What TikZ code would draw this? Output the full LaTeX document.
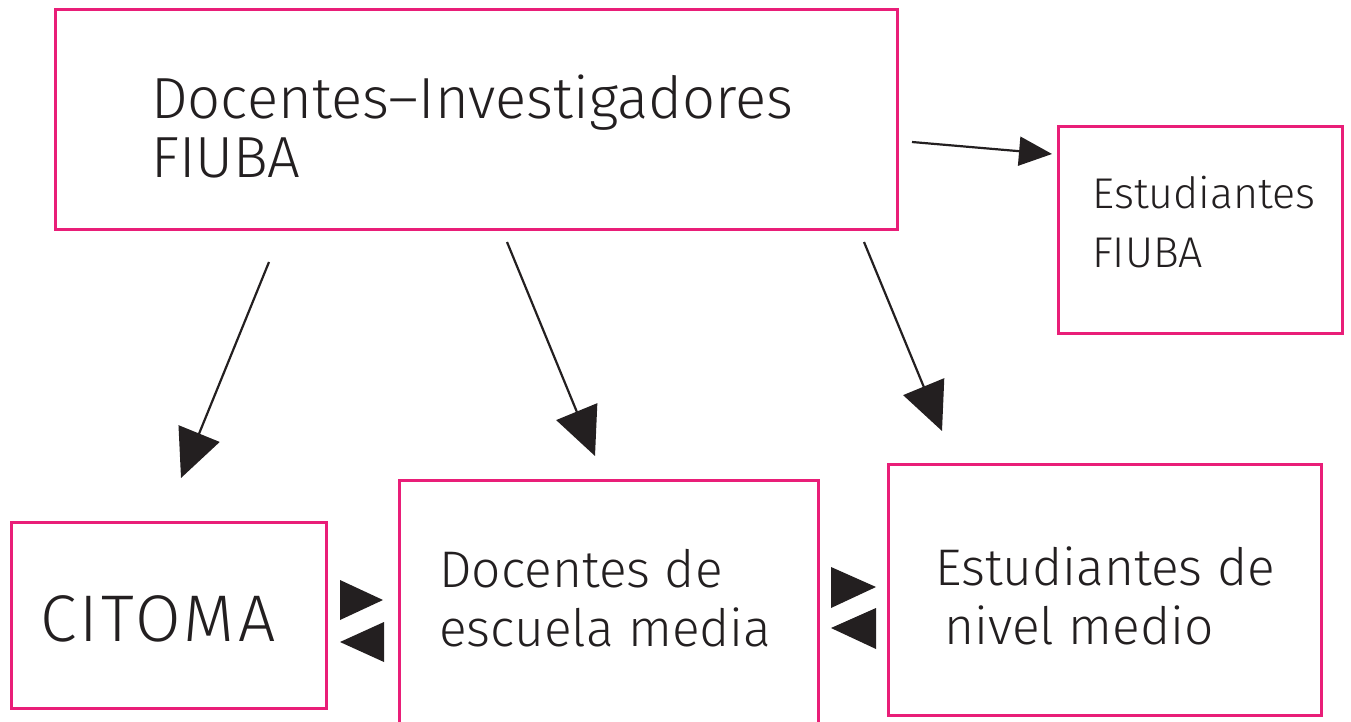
\documentclass[tikz,border=0pt]{standalone}
\usepackage{fontspec}
\setmainfont{Fira Sans Light}
\usetikzlibrary{arrows.meta}
\definecolor{rosa}{RGB}{233,30,120}
\definecolor{tinta}{RGB}{35,31,32}
\tikzset{
  caja/.style={draw=rosa, line width=3pt, inner sep=0pt},
  texto/.style={text=tinta, align=left, anchor=west, inner sep=0pt},
  flecha/.style={draw=tinta, line width=2.2pt, -{Triangle[length=48pt,width=44pt]}},
}
\begin{document}
\begin{tikzpicture}[x=1pt,y=-1pt]
      \useasboundingbox (0,0) rectangle (1351,722);
      \clip (0,0) rectangle (1351,722);
      % cajas
      \node[caja, minimum width=842, minimum height=219] (docinv) at (476,119.5) {};
      \node[caja, minimum width=284, minimum height=206] (estfiuba) at (1200,230) {};
      \node[caja, minimum width=315, minimum height=186] (citoma) at (168.5,615) {};
      \node[caja, minimum width=419, minimum height=270] (docmedia) at (608.5,615) {};
      \node[caja, minimum width=433, minimum height=251] (estmedio) at (1104.5,589.5) {};
      % textos
      \node[texto, font=\fontsize{58}{59}\selectfont] (docinvtxt) at (151,126) {Docentes–Investigadores\\FIUBA};
      \node[texto, font=\fontsize{43}{59}\selectfont] (estfiubatxt) at (1092,222) {Estudiantes\\FIUBA};
      \node[texto, font=\fontsize{66}{59}\selectfont\addfontfeature{LetterSpace=5}] (citomatxt) at (40,618.5) {CITOMA};
      \node[texto, font=\fontsize{51.5}{59}\selectfont] (docmediatxt) at (439,598.5) {Docentes de\\escuela media};
      \node[texto, font=\fontsize{51.5}{59}\selectfont] (estmediotxt) at (935,596) {Estudiantes de\\\hspace*{9pt}nivel medio};
      % flechas
      \coordinate (a1) at (269,262);
      \coordinate (t1) at (181,478);
      \coordinate (a2) at (507,242);
      \coordinate (t2) at (595,456);
      \coordinate (a3) at (864,242);
      \coordinate (t3) at (942,431);
      \coordinate (a4) at (912,142);
      \coordinate (t4) at (1052,154);
      \draw[flecha] (a1) -- (t1);
      \draw[flecha] (a2) -- (t2);
      \draw[flecha] (a3) -- (t3);
      \draw[flecha, -{Triangle[length=33pt,width=29pt]}] (a4) -- (t4);
      % puntas dobles
      \fill[tinta] (340,580) -- (383,600) -- (340,620) -- cycle;
      \fill[tinta] (384,622) -- (340,642) -- (384,662) -- cycle;
      \fill[tinta] (831,567) -- (876,587) -- (831,608) -- cycle;
      \fill[tinta] (876,608) -- (831,628) -- (876,649) -- cycle;
    \end{tikzpicture}
\end{document}
